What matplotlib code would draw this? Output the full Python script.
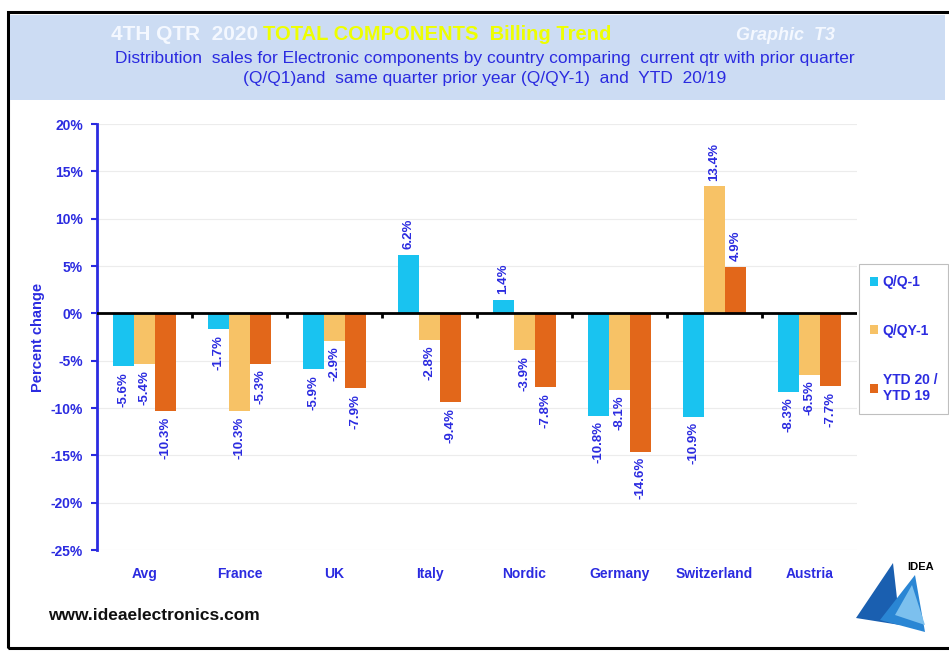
import matplotlib
matplotlib.use("Agg")
import matplotlib.pyplot as plt
import matplotlib.patches as patches
import numpy as np

plt.rcParams['font.family'] = ['Liberation Sans', 'DejaVu Sans']

countries = ["Avg", "France", "UK", "Italy", "Nordic", "Germany", "Switzerland", "Austria"]
qq1 = [-5.6, -1.7, -5.9, 6.2, 1.4, -10.8, -10.9, -8.3]
qqy1 = [-5.4, -10.3, -2.9, -2.8, -3.9, -8.1, 13.4, -6.5]
ytd = [-10.3, -5.3, -7.9, -9.4, -7.8, -14.6, 4.9, -7.7]
series_names = ["Q/Q-1", "Q/QY-1", "YTD 20 /\nYTD 19"]
colors = ["#19c3f0", "#f7c266", "#e2671a"]
blue = "#2b2be0"

W, H = 949, 653
fig = plt.figure(figsize=(W / 100, H / 100), dpi=100)

def fx(px):
    return px / W

def fy(py):
    return 1 - py / H

# frame and header band
fig.patches.append(patches.Rectangle((fx(8), fy(648)), fx(960) - fx(8), fy(12) - fy(648),
                                     transform=fig.transFigure, fill=False,
                                     edgecolor="black", lw=2.2))
fig.patches.append(patches.Rectangle((fx(10), fy(100)), fx(945) - fx(10), fy(15) - fy(100),
                                     transform=fig.transFigure, facecolor="#ccdcf3",
                                     edgecolor="none"))

fig.text(fx(258), fy(35), "4TH QTR  2020", color="#f4f8ff", fontsize=15, fontweight="bold",
         ha="right", va="center")
fig.text(fx(263), fy(35), "TOTAL COMPONENTS  Billing Trend", color="#eeff00", fontsize=14.5,
         fontweight="bold", ha="left", va="center")
fig.text(fx(835), fy(35), "Graphic  T3", color="#f4f8ff", fontsize=13, fontweight="bold",
         style="italic", ha="right", va="center")
fig.text(fx(485), fy(58), "Distribution  sales for Electronic components by country comparing  current qtr with prior quarter",
         color=blue, fontsize=12.5, ha="center", va="center")
fig.text(fx(485), fy(79), "(Q/Q1)and  same quarter prior year (Q/QY-1)  and  YTD  20/19",
         color=blue, fontsize=12.5, ha="center", va="center")

ax = fig.add_axes([fx(97), fy(550), fx(857) - fx(97), fy(124) - fy(550)])

x = np.arange(len(countries))
w = 0.22
for i, (vals, c) in enumerate(zip([qq1, qqy1, ytd], colors)):
    pos = x + (i - 1) * w
    bars = ax.bar(pos, vals, width=w, color=c, label=series_names[i], zorder=3)
    for b, v in zip(bars, vals):
        xc = b.get_x() + b.get_width() / 2
        if v >= 0:
            ax.text(xc, v + 0.6, f"{v:.1f}%", rotation=90, ha="center", va="bottom",
                    color=blue, fontsize=9.5, fontweight="bold", zorder=4)
        else:
            ax.text(xc, v - 0.6, f"{v:.1f}%", rotation=90, ha="center", va="top",
                    color=blue, fontsize=9.5, fontweight="bold", zorder=4)

ax.set_xlim(-0.5, len(countries) - 0.5)
ax.set_ylim(-25, 20)
ax.set_yticks(np.arange(-25, 21, 5))
ax.set_yticklabels([f"{t}%" for t in range(-25, 21, 5)])
ax.set_xticks(x)
ax.set_xticklabels(countries)
ax.tick_params(axis="x", length=0, pad=12, labelsize=10, labelcolor=blue)
ax.tick_params(axis="y", length=4, width=1.5, color=blue, labelsize=10, labelcolor=blue, pad=6)
for lbl in ax.get_xticklabels() + ax.get_yticklabels():
    lbl.set_fontweight("bold")

for s in ["top", "right", "bottom"]:
    ax.spines[s].set_visible(False)
ax.spines["left"].set_color(blue)
ax.spines["left"].set_linewidth(2)

ax.grid(axis="y", color="#ececec", lw=0.8, zorder=0)
ax.axhline(0, color="black", lw=2, zorder=5)
ax.vlines(np.arange(0.5, len(countries) - 0.5, 1), -0.45, 0, color="black", lw=2, zorder=5)

ax.set_ylabel("Percent change", color=blue, fontsize=10.5, fontweight="bold", labelpad=4)

leg = fig.legend(loc="upper left", bbox_to_anchor=(fx(852), fy(257)), frameon=True,
                 fontsize=10, labelcolor=blue, handlelength=0.6, handleheight=0.6,
                 handletextpad=0.3, labelspacing=2.5, borderpad=0.8, fancybox=False)
leg.get_frame().set_edgecolor("#b0b0b0")
leg.get_frame().set_linewidth(0.8)
for t in leg.get_texts():
    t.set_fontweight("bold")

fig.text(fx(48), fy(616), "www.ideaelectronics.com", color="#111111", fontsize=12.5,
         fontweight="bold", ha="left", va="center")

# IDEA logo
logo = [
    ([(856, 618), (893, 563), (900, 625)], "#1a5fb0"),
    ([(880, 620), (915, 575), (925, 632)], "#2a86d4"),
    ([(895, 615), (912, 585), (925, 625)], "#7cc0ee"),
]
for pts, c in logo:
    fig.patches.append(patches.Polygon([(fx(a), fy(b)) for a, b in pts], closed=True,
                                       transform=fig.transFigure, facecolor=c, edgecolor="none"))
fig.text(fx(921), fy(567), "IDEA", color="black", fontsize=8, fontweight="bold",
         ha="center", va="center")

fig.savefig("out.png", dpi=100)
